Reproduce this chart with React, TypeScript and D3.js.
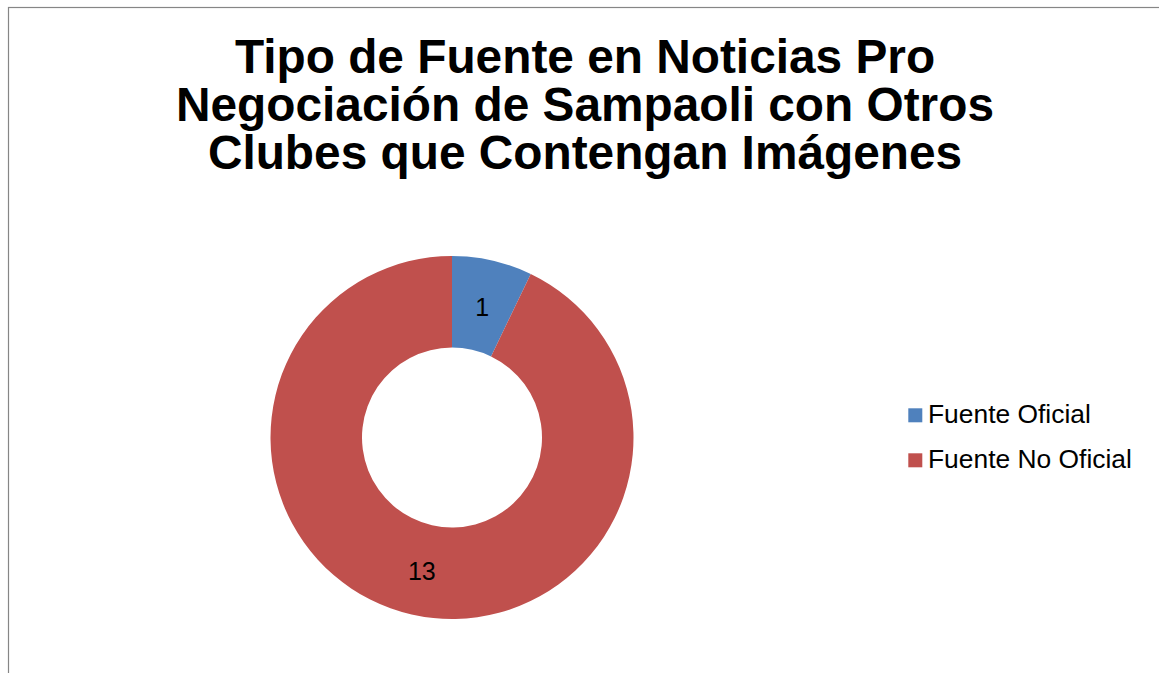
import React from "react";
import * as d3 from "d3";

const titleLines = [
  "Tipo de Fuente en Noticias Pro",
  "Negociación de Sampaoli con Otros",
  "Clubes que Contengan Imágenes",
];
const categories = ["Fuente Oficial", "Fuente No Oficial"];
const values = [1, 13];
const colors = ["#4F81BD", "#C0504D"];

const W = 1159;
const H = 673;

export default function App() {
  const cx = 452;
  const cy = 437.5;
  const rOuter = 181.5;
  const rInner = 90;
  const data = categories.map((c, i) => ({ c, v: values[i], color: colors[i] }));
  const pie = d3
    .pie<{ c: string; v: number; color: string }>()
    .value((d) => d.v)
    .sort(null)
    .startAngle(0)
    .endAngle(2 * Math.PI);
  const arcs = pie(data);
  const arc = d3
    .arc<d3.PieArcDatum<{ c: string; v: number; color: string }>>()
    .innerRadius(rInner)
    .outerRadius(rOuter);

  const font = "Liberation Sans, Arial, Helvetica, sans-serif";
  const titleBaselines = [73, 121, 169];
  const legendY = d3.scalePoint<string>().domain(categories).range([415.3, 460.3]);

  return (
    <svg
      width={W}
      height={H}
      style={{ position: "absolute", left: 0, top: 0, display: "block" }}
    >
      <rect x={0} y={0} width={W} height={H} fill="#fff" />
      <rect
        x={8.5}
        y={7.5}
        width={W + 20}
        height={H + 20}
        fill="#fff"
        stroke="#868686"
        strokeWidth={1.2}
      />
      {titleLines.map((t, i) => (
        <text
          key={i}
          x={585}
          y={titleBaselines[i]}
          textAnchor="middle"
          fontFamily={font}
          fontWeight="bold"
          fontSize={47.8}
          fill="#000"
        >
          {t}
        </text>
      ))}
      <g transform={`translate(${cx},${cy})`}>
        {arcs.map((a, i) => (
          <path key={i} d={arc(a) || ""} fill={a.data.color} />
        ))}
        {arcs.map((a, i) => {
          const [x, y] = arc.centroid(a);
          return (
            <text
              key={"l" + i}
              x={x}
              y={y + 1.5}
              textAnchor="middle"
              dominantBaseline="central"
              fontFamily={font}
              fontSize={25}
              fill="#000"
            >
              {a.data.v}
            </text>
          );
        })}
      </g>
      {categories.map((c, i) => {
        const y = legendY(c) as number;
        return (
          <g key={c}>
            <rect x={908.3} y={y - 7} width={14} height={14} fill={colors[i]} />
            <text
              x={928}
              y={y - 1}
              dominantBaseline="central"
              fontFamily={font}
              fontSize={26.4}
              fill="#000"
            >
              {c}
            </text>
          </g>
        );
      })}
    </svg>
  );
}
